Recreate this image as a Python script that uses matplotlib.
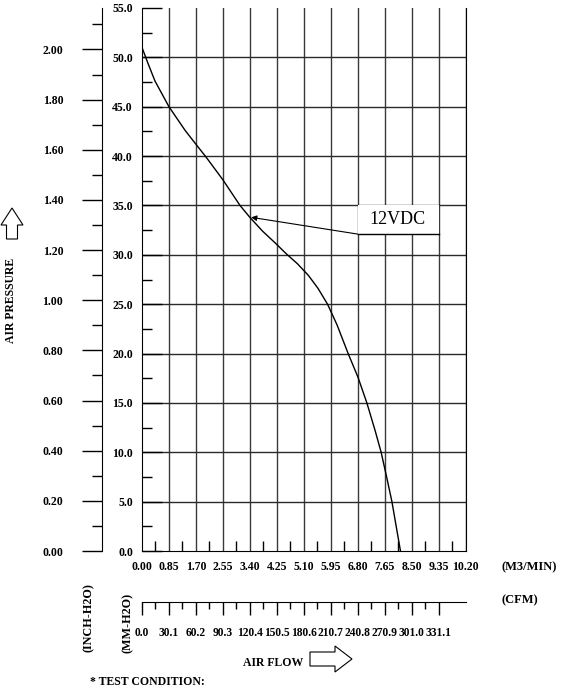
import numpy as np
import matplotlib.pyplot as plt
from matplotlib.patches import Polygon, Rectangle

plt.rcParams['font.family'] = ['Liberation Serif', 'DejaVu Serif']
plt.rcParams['font.weight'] = 'bold'

# curve: air flow (M3/MIN) vs static pressure (MM-H2O)
flow_m3min = [0.00, 0.20, 0.41, 0.85, 1.36, 1.70, 2.02, 2.55, 3.09, 3.40,
              3.80, 4.20, 4.55, 4.90, 5.25, 5.55, 5.85, 6.15, 6.50, 6.81,
              7.09, 7.35, 7.54, 7.72, 7.88, 8.02, 8.15]
pressure_mm = [51.0, 49.3, 47.6, 45.0, 42.6, 41.2, 39.9, 37.6, 35.0, 33.8,
               32.4, 31.2, 30.1, 29.1, 27.9, 26.6, 25.0, 22.9, 20.0, 17.6,
               15.0, 12.2, 10.0, 7.4, 5.0, 2.4, 0.0]

flow_ticks = [0.00, 0.85, 1.70, 2.55, 3.40, 4.25, 5.10, 5.95, 6.80, 7.65, 8.50, 9.35, 10.20]
flow_labels = ["0.00", "0.85", "1.70", "2.55", "3.40", "4.25", "5.10", "5.95",
               "6.80", "7.65", "8.50", "9.35", "10.20"]
cfm_labels = ["0.0", "30.1", "60.2", "90.3", "120.4", "150.5", "180.6",
              "210.7", "240.8", "270.9", "301.0", "331.1"]
mm_ticks = [0, 5, 10, 15, 20, 25, 30, 35, 40, 45, 50, 55]
mm_labels = ["0.0", "5.0", "10.0", "15.0", "20.0", "25.0", "30.0", "35.0",
             "40.0", "45.0", "50.0", "55.0"]
inch_ticks = [0.00, 0.20, 0.40, 0.60, 0.80, 1.00, 1.20, 1.40, 1.60, 1.80, 2.00]
inch_labels = ["0.00", "0.20", "0.40", "0.60", "0.80", "1.00", "1.20",
               "1.40", "1.60", "1.80", "2.00"]
curve_label = "12VDC"

W, H = 563, 688
fig = plt.figure(figsize=(W / 100, H / 100), dpi=100)


def fx(x):
    return x / W


def fy(y):
    return 1 - y / H


left, right, top, bottom = 142, 465.5, 8, 551
ax = fig.add_axes([fx(left), fy(bottom), fx(right) - fx(left), fy(top) - fy(bottom)])
ax.set_xlim(0, flow_ticks[-1])
ax.set_ylim(0, mm_ticks[-1])

# grid
for v in flow_ticks[1:]:
    ax.axvline(v, color='#3a3a3a', lw=1.0, zorder=1)
for v in mm_ticks[1:-1]:
    ax.axhline(v, color='#2a2a2a', lw=1.0, zorder=1)

ax.spines['top'].set_visible(False)
ax.set_xticks(flow_ticks)
ax.set_xticklabels(flow_labels)
ax.set_xticks([(a + b) / 2 for a, b in zip(flow_ticks[:-1], flow_ticks[1:])], minor=True)
ax.set_yticks(mm_ticks)
ax.set_yticklabels(mm_labels)
ax.set_yticks([v + 2.5 for v in mm_ticks[:-1]], minor=True)
ax.tick_params(axis='x', which='major', direction='in', length=0, pad=7, labelsize=8.5)
ax.tick_params(axis='x', which='minor', direction='in', length=7.2, width=1)
ax.tick_params(axis='y', which='major', direction='in', length=14.4, width=1, pad=6.5, labelsize=8.5)
ax.tick_params(axis='y', which='minor', direction='in', length=7.2, width=1)

# curve
ax.plot(flow_m3min, pressure_mm, color='black', lw=1.0, zorder=3,
        solid_joinstyle='round')

# label box with leader
ax.add_patch(Rectangle((6.80, 32.1), 2.55, 2.9, facecolor='white', edgecolor='none', zorder=2))
ax.plot([6.80, 9.35], [32.1, 32.1], color='black', lw=1.0, zorder=3)
ax.annotate('', xy=(3.44, 33.8), xytext=(6.80, 32.1),
            arrowprops=dict(arrowstyle='-|>', color='black', lw=0.8,
                            mutation_scale=8, shrinkA=0, shrinkB=0), zorder=4)
ax.text(8.07, 33.55, curve_label, ha='center', va='center', fontsize=13,
        fontweight='normal', zorder=4)

# inch-H2O axis
ax2 = fig.add_axes([fx(102), fy(bottom), 0.0001, fy(top) - fy(bottom)])
ax2.set_ylim(0, mm_ticks[-1] / 25.4)
for s in ['top', 'right', 'bottom']:
    ax2.spines[s].set_visible(False)
ax2.set_xticks([])
ax2.set_yticks(inch_ticks)
ax2.set_yticklabels(inch_labels)
ax2.set_yticks([v + 0.1 for v in inch_ticks], minor=True)
ax2.tick_params(axis='y', which='major', direction='out', length=14.4, width=1, pad=13.5, labelsize=8.5)
ax2.tick_params(axis='y', which='minor', direction='out', length=7.2, width=1)

# CFM axis
ax3 = fig.add_axes([fx(left), fy(601.5), fx(right) - fx(left), 0.0001])
ax3.set_xlim(0, flow_ticks[-1])
ax3.patch.set_visible(False)
for s in ['top', 'right', 'left']:
    ax3.spines[s].set_visible(False)
ax3.set_yticks([])
ax3.set_xticks(flow_ticks[:-1])
ax3.set_xticklabels(cfm_labels)
ax3.set_xticks([(a + b) / 2 for a, b in zip(flow_ticks[:-2], flow_ticks[1:-1])], minor=True)
ax3.tick_params(axis='x', which='major', direction='out', length=9.4, width=1, pad=9, labelsize=8.3)
ax3.tick_params(axis='x', which='minor', direction='out', length=5, width=1)

# texts
fig.text(fx(11.5), fy(300), 'AIR PRESSURE', rotation=90, ha='center', va='center', fontsize=8.5)
fig.text(fx(88.5), fy(618), '(INCH-H2O)', rotation=90, ha='center', va='center', fontsize=8.7)
fig.text(fx(128), fy(623), '(MM-H2O)', rotation=90, ha='center', va='center', fontsize=8.7)
fig.text(fx(502), fy(567), '(M3/MIN)', ha='left', va='center', fontsize=9)
fig.text(fx(502), fy(600), '(CFM)', ha='left', va='center', fontsize=9)
fig.text(fx(243), fy(663), 'AIR FLOW', ha='left', va='center', fontsize=8.5)
fig.text(fx(90), fy(682), '* TEST CONDITION:', ha='left', va='center', fontsize=8.5)

# outline arrows
up = [(6.5, 239), (6.5, 225), (1, 225), (12, 208), (23, 225), (17.5, 225), (17.5, 239)]
rt = [(310, 652), (335, 652), (335, 646), (352, 659), (335, 672), (335, 666), (310, 666)]
for pts in (up, rt):
    fig.add_artist(Polygon([(fx(a), fy(b)) for a, b in pts], closed=True,
                           transform=fig.transFigure, facecolor='white',
                           edgecolor='black', lw=0.8))

fig.savefig('out.png', dpi=100)
